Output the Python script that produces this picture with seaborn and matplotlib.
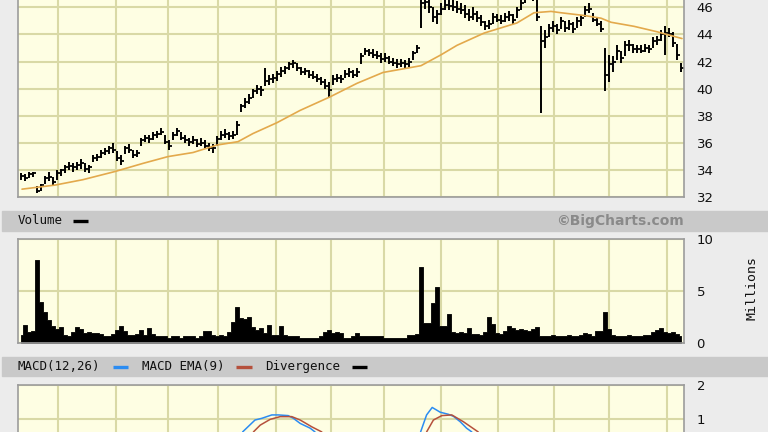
import matplotlib
matplotlib.use('Agg')
import matplotlib.pyplot as plt
from matplotlib.lines import Line2D
from matplotlib.patches import Rectangle
import seaborn as sns

# 价格数据 (每根K线: 最高/最低/收盘)
high = [33.8, 33.7, 33.9, 33.9, 32.8, 33.0, 33.6, 33.9, 33.5, 34.0,
        34.1, 34.4, 34.6, 34.5, 34.6, 34.8, 34.5, 34.4, 35.1, 35.2,
        35.5, 35.6, 35.8, 36.0, 35.4, 35.1, 35.8, 35.9, 35.5, 35.5,
        36.4, 36.6, 36.6, 36.8, 36.9, 37.1, 36.6, 36.2, 36.8, 37.1,
        36.8, 36.6, 36.4, 36.5, 36.3, 36.4, 36.2, 36.0, 35.9, 36.5,
        36.9, 37.0, 36.8, 36.9, 37.6, 38.9, 39.3, 39.6, 40.0, 40.3,
        40.2, 41.5, 41.0, 41.1, 41.3, 41.6, 41.7, 42.0, 42.1, 41.9,
        41.6, 41.5, 41.4, 41.3, 41.1, 40.9, 40.7, 40.5, 41.0, 41.1,
        41.0, 41.4, 41.5, 41.4, 41.5, 42.6, 43.0, 42.9, 42.9, 42.8,
        42.6, 42.6, 42.4, 42.3, 42.2, 42.2, 42.1, 42.3, 42.8, 43.2,
        46.6, 46.8, 46.8, 46.0, 45.8, 46.3, 46.7, 46.7, 46.6, 46.5,
        46.3, 46.2, 45.9, 46.0, 45.7, 45.4, 45.0, 45.1, 45.6, 45.5,
        45.4, 45.6, 45.7, 45.5, 46.0, 46.6, 47.0, 47.2, 47.1, 46.6,
        44.6, 44.3, 44.8, 45.0, 44.8, 45.3, 45.0, 45.1, 44.9, 45.3,
        45.4, 46.1, 46.3, 45.6, 45.3, 45.0, 43.0, 42.5, 42.4, 43.2,
        42.8, 43.5, 43.6, 43.3, 43.2, 43.2, 43.3, 43.2, 43.8, 43.9,
        44.3, 44.6, 44.5, 44.2, 43.3, 41.9]
low = [33.3, 33.2, 33.4, 33.5, 32.3, 32.5, 33.0, 33.2, 32.9, 33.3,
       33.6, 33.8, 34.0, 33.9, 34.0, 34.1, 33.9, 33.8, 34.6, 34.7,
       34.9, 35.1, 35.2, 35.3, 34.7, 34.4, 35.2, 35.3, 34.9, 35.0,
       35.8, 36.1, 36.0, 36.2, 36.4, 36.6, 35.9, 35.5, 36.2, 36.5,
       36.2, 36.0, 35.8, 35.9, 35.7, 35.8, 35.6, 35.4, 35.3, 35.8,
       36.2, 36.4, 36.2, 36.3, 36.6, 38.3, 38.6, 38.9, 39.3, 39.6,
       39.5, 40.2, 40.3, 40.4, 40.6, 40.9, 41.1, 41.4, 41.5, 41.3,
       41.0, 41.0, 40.8, 40.7, 40.5, 40.3, 40.0, 39.3, 40.3, 40.5,
       40.4, 40.8, 40.9, 40.8, 40.9, 41.8, 42.5, 42.4, 42.3, 42.2,
       41.9, 42.0, 41.8, 41.7, 41.5, 41.6, 41.5, 41.6, 42.1, 42.6,
       44.5, 45.9, 45.6, 44.9, 44.8, 45.4, 45.8, 45.8, 45.7, 45.6,
       45.5, 45.2, 45.0, 45.1, 44.9, 44.6, 44.3, 44.4, 44.8, 44.9,
       44.8, 44.9, 45.0, 44.8, 45.2, 45.8, 46.3, 46.6, 46.5, 45.0,
       38.2, 43.0, 43.8, 44.2, 44.0, 44.4, 44.2, 44.3, 44.1, 44.5,
       44.6, 45.3, 45.6, 44.9, 44.6, 44.2, 39.8, 40.5, 41.2, 42.1,
       41.9, 42.4, 42.8, 42.6, 42.6, 42.6, 42.7, 42.6, 43.0, 43.2,
       43.5, 42.5, 43.8, 43.1, 42.1, 41.2]
close = [33.6, 33.4, 33.7, 33.8, 32.5, 32.9, 33.4, 33.5, 33.1, 33.8,
         34.0, 34.2, 34.3, 34.2, 34.4, 34.5, 34.1, 34.2, 34.9, 35.0,
         35.3, 35.4, 35.6, 35.5, 34.9, 34.7, 35.6, 35.5, 35.1, 35.3,
         36.2, 36.4, 36.3, 36.6, 36.7, 36.8, 36.1, 35.8, 36.6, 36.9,
         36.4, 36.2, 36.1, 36.2, 35.9, 36.0, 35.8, 35.6, 35.6, 36.3,
         36.6, 36.7, 36.5, 36.6, 37.3, 38.7, 39.0, 39.3, 39.8, 40.0,
         39.9, 40.6, 40.7, 40.8, 41.1, 41.3, 41.5, 41.8, 41.9, 41.5,
         41.2, 41.3, 41.0, 40.9, 40.7, 40.5, 40.2, 39.9, 40.7, 40.8,
         40.7, 41.1, 41.2, 41.0, 41.2, 42.4, 42.8, 42.6, 42.5, 42.4,
         42.2, 42.3, 42.0, 41.9, 41.8, 41.9, 41.8, 42.0, 42.6, 43.0,
         46.3, 46.4, 46.0, 45.3, 45.5, 45.9, 46.2, 46.1, 46.0, 45.9,
         45.8, 45.5, 45.3, 45.5, 45.2, 44.9, 44.6, 44.8, 45.3, 45.1,
         45.0, 45.3, 45.4, 45.1, 45.8, 46.3, 46.7, 46.9, 46.7, 45.3,
         43.5, 43.8, 44.5, 44.6, 44.3, 45.0, 44.5, 44.8, 44.4, 45.0,
         45.2, 45.8, 45.9, 45.1, 44.8, 44.4, 41.0, 41.8, 42.0, 42.8,
         42.3, 43.2, 43.2, 42.9, 42.9, 42.8, 43.0, 42.9, 43.5, 43.6,
         44.0, 44.1, 44.0, 43.4, 42.5, 41.5]

# 成交量 (百万)
volume = [0.75, 1.7, 1.0, 1.1, 8.0, 3.9, 3.0, 2.2, 1.6, 1.3,
          1.5, 0.7, 0.6, 1.0, 1.5, 1.3, 0.9, 1.0, 0.9, 0.9,
          0.8, 0.6, 0.6, 0.8, 1.2, 1.6, 1.1, 0.7, 0.7, 0.8,
          1.2, 0.7, 1.4, 0.8, 0.6, 0.6, 0.6, 0.5, 0.6, 0.6,
          0.5, 0.6, 0.6, 0.6, 0.5, 0.6, 1.1, 1.1, 0.7, 0.6,
          0.7, 0.6, 1.0, 2.0, 3.4, 2.4, 2.3, 2.5, 1.5, 1.2,
          1.4, 0.9, 1.7, 0.7, 0.7, 1.6, 0.7, 0.6, 0.6, 0.6,
          0.5, 0.5, 0.5, 0.5, 0.5, 0.6, 1.0, 1.2, 0.9, 1.0,
          0.9, 0.5, 0.5, 0.6, 0.9, 0.6, 0.6, 0.6, 0.6, 0.6,
          0.6, 0.5, 0.5, 0.5, 0.5, 0.5, 0.5, 0.7, 0.7, 0.8,
          7.3, 1.9, 1.9, 3.8, 5.4, 1.6, 1.6, 2.8, 1.0, 0.9,
          1.0, 0.9, 1.4, 0.8, 0.8, 0.7, 1.0, 2.5, 1.8, 0.9,
          0.8, 1.1, 1.6, 1.4, 1.2, 1.3, 1.2, 1.1, 1.3, 1.5,
          0.6, 0.6, 0.6, 0.7, 0.6, 0.6, 0.6, 0.7, 0.6, 0.6,
          0.7, 0.9, 0.8, 0.6, 1.1, 1.1, 3.0, 1.3, 0.7, 0.6,
          0.6, 0.6, 0.7, 0.6, 0.6, 0.6, 0.7, 0.7, 1.0, 1.2,
          1.4, 1.0, 0.9, 1.0, 0.8, 0.6]

# 移动平均线
ma_pos = [0.25, 8.5, 15.5, 23.5, 30.5, 36.75, 43, 49, 54.25, 58, 64,
          69.75, 77.25, 84, 90.5, 100, 105, 109, 115.75, 124, 128.25,
          132.5, 135, 140.75, 145, 147.5, 153.25, 159, 165.25]
ma_val = [32.6, 32.9, 33.3, 33.9, 34.5, 35.0, 35.3, 35.85, 36.1, 36.7, 37.5,
          38.4, 39.4, 40.4, 41.2, 41.7, 42.5, 43.2, 44.1, 44.85, 45.6,
          45.7, 45.6, 45.4, 45.2, 44.9, 44.6, 44.2, 43.7]

# MACD (只有上半部分可见)
macd1_pos = [55.4, 58.5, 60.2, 62.7, 64.3, 66.8, 68.1, 69.8, 72.3, 73.5]
macd1_val = [0.62, 0.97, 1.02, 1.12, 1.12, 1.10, 1.02, 0.87, 0.73, 0.62]
ema1_pos = [58.1, 59.8, 62.3, 64.8, 67.7, 69.8, 72.7, 75.2]
ema1_val = [0.62, 0.82, 0.99, 1.07, 1.07, 0.97, 0.77, 0.62]
macd2_pos = [99.9, 101.4, 102.8, 104.8, 106.8, 108.1, 109.8, 111.4, 112.7]
macd2_val = [0.62, 1.12, 1.34, 1.20, 1.14, 1.08, 0.92, 0.73, 0.62]
ema2_pos = [101.4, 103.1, 105.2, 107.7, 110.6, 114.3]
ema2_val = [0.62, 0.97, 1.10, 1.12, 0.92, 0.62]

# 月份分界线
month_pos = [9.25, 23.75, 36.75, 49.25, 63.75, 77.5, 90.75, 105, 119.25,
             133.25, 147, 161.5]

assert len(high) == len(low) == len(close) == len(volume)
idx = list(range(len(close)))

sns.set_style('white')
plt.rcParams['font.family'] = ['DejaVu Sans']

BG = '#ececec'
PANEL = '#fefee3'
GRID = '#d9d9a6'
EDGE = '#9c9c9c'

fig = plt.figure(figsize=(7.68, 4.32), dpi=100, facecolor=BG)
L, W = 18 / 768, 666 / 768
H = 432.0


def panel(top_px, bot_px):
    ax = fig.add_axes([L, 1 - bot_px / H, W, (bot_px - top_px) / H])
    ax.set_facecolor(PANEL)
    ax.set_xlim(-0.75, 165.75)
    ax.set_xticks(month_pos)
    ax.set_xticklabels([])
    ax.grid(True, color=GRID, lw=1.5)
    ax.set_axisbelow(True)
    ax.yaxis.tick_right()
    ax.tick_params(axis='x', length=0)
    ax.tick_params(axis='y', length=0, pad=9, labelsize=9.5, colors='#111111')
    for s in ax.spines.values():
        s.set_color(EDGE)
        s.set_linewidth(1.2)
    return ax


# 价格面板
ax_p = panel(0, 197.3)
ax_p.set_ylim(32, 46.54)
ax_p.set_yticks(range(32, 47, 2))
ax_p.spines['top'].set_visible(False)
ax_p.vlines(idx, low, high, color='black', lw=1.4)
ax_p.hlines(close, [i - 0.1 for i in idx], [i + 0.7 for i in idx], color='black', lw=1.3)
sns.lineplot(x=ma_pos, y=ma_val, ax=ax_p, color='#e3a94c', lw=1.2)

# 成交量面板
ax_v = panel(239, 342.7)
ax_v.set_ylim(0, 10)
ax_v.set_yticks([0, 5, 10])
ax_v.fill_between(idx, volume, 0, step='mid', color='black', lw=0.6, edgecolor='black')

# MACD 面板
ax_m = panel(385, 432)
ax_m.set_ylim(0.618, 2)
ax_m.set_yticks([1, 2])
ax_m.spines['bottom'].set_visible(False)
sns.lineplot(x=macd1_pos, y=macd1_val, ax=ax_m, color='#2b8cf2', lw=1.1)
sns.lineplot(x=ema1_pos, y=ema1_val, ax=ax_m, color='#b5503c', lw=1.1)
sns.lineplot(x=macd2_pos, y=macd2_val, ax=ax_m, color='#2b8cf2', lw=1.1)
sns.lineplot(x=ema2_pos, y=ema2_val, ax=ax_m, color='#b5503c', lw=1.1)

for a in (ax_p, ax_v, ax_m):
    a.set_xlabel('')
    a.set_ylabel('')

# 灰色标题带
for top, bot in [(210.5, 231), (357, 376)]:
    fig.patches.append(Rectangle((0.003, 1 - bot / H), 0.997, (bot - top) / H,
                                 transform=fig.transFigure, color='#c9c9c9', zorder=0))

mono = 'DejaVu Sans Mono'


def dash(x0, x1, y, color):
    fig.add_artist(Line2D([x0 / 768, x1 / 768], [1 - y / H, 1 - y / H],
                          color=color, lw=2.4, solid_capstyle='butt'))


y1 = 1 - 221 / H
fig.text(18 / 768, y1, 'Volume', family=mono, fontsize=9, va='center', color='#111111')
dash(73, 88, 221, 'black')
fig.text(684 / 768, y1, '©BigCharts.com', fontsize=10, fontweight='bold',
         color='#8a8a8a', ha='right', va='center')

y2 = 1 - 366.5 / H
fig.text(18 / 768, y2, 'MACD(12,26)', family=mono, fontsize=9, va='center', color='#111111')
dash(113, 128, 366.5, '#2b8cf2')
fig.text(142 / 768, y2, 'MACD EMA(9)', family=mono, fontsize=9, va='center', color='#111111')
dash(236, 252, 366.5, '#b5503c')
fig.text(265 / 768, y2, 'Divergence', family=mono, fontsize=9, va='center', color='#111111')
dash(352, 367, 366.5, 'black')

fig.text(752 / 768, 1 - 288 / H, 'Millions', family=mono, fontsize=9.5,
         rotation=90, ha='center', va='center', color='#111111')

fig.savefig('out.png', dpi=100, facecolor=BG)
